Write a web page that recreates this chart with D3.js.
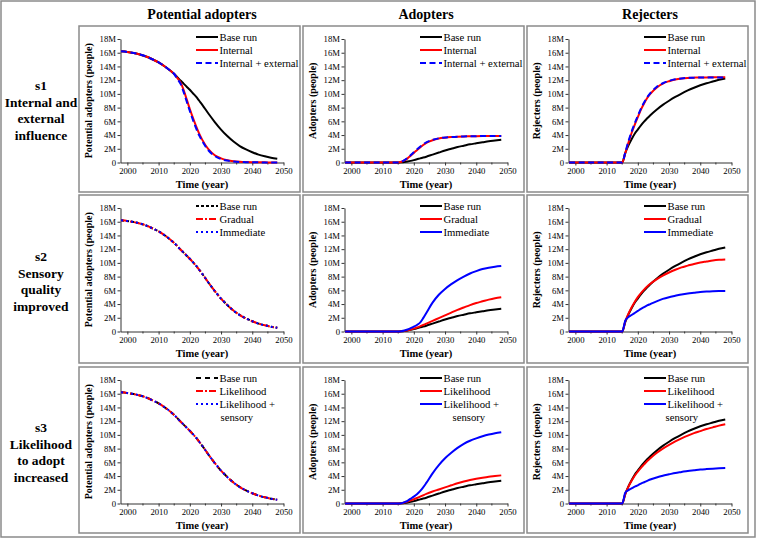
<!DOCTYPE html>
<html><head><meta charset="utf-8">
<script src="https://cdn.jsdelivr.net/npm/d3@7"></script>
<style>body{margin:0;background:#fff} text{font-family:"Liberation Serif","Times New Roman",Times,serif}</style>
</head><body><svg id="c" width="757" height="539"></svg>
<script>
// ---------- data (values in millions of people) ----------
const years = [1998,2000,2002,2004,2006,2008,2010,2012,2014,2015,2016,2017,2018,2019,2020,2021,2022,2023,2024,2026,2028,2030,2032,2034,2036,2038,2040,2042,2044,2046,2048];

const basePotential   = [16.2,16.1,15.95,15.75,15.45,15.05,14.6,14.0,13.3,12.9,12.45,11.95,11.5,11.05,10.6,10.1,9.6,9.0,8.4,7.1,5.9,4.8,3.85,3.05,2.4,1.9,1.5,1.15,0.9,0.7,0.55];
const internalPotential = [16.2,16.1,15.95,15.75,15.45,15.05,14.6,14.0,13.3,12.9,12.3,11.7,10.6,9.2,7.8,6.5,5.3,4.2,3.3,1.9,1.05,0.6,0.33,0.18,0.1,0.06,0.04,0.03,0.02,0.01,0.01];
const intExtPotential = [16.2,16.1,15.95,15.75,15.45,15.05,14.6,14.0,13.3,12.9,12.2,11.5,10.3,8.9,7.5,6.2,5.0,3.95,3.1,1.75,0.95,0.5,0.28,0.15,0.08,0.05,0.03,0.02,0.01,0.01,0.01];

const baseAdopters     = [0,0,0,0,0,0,0,0,0,0,0.03,0.08,0.15,0.24,0.35,0.47,0.6,0.72,0.85,1.15,1.45,1.75,2.0,2.25,2.45,2.65,2.8,2.95,3.1,3.2,3.3];
const internalAdopters = [0,0,0,0,0,0,0,0,0,0,0.1,0.3,0.6,1.0,1.4,1.8,2.2,2.55,2.85,3.25,3.5,3.62,3.7,3.76,3.8,3.82,3.84,3.85,3.85,3.85,3.85];
const intExtAdopters   = [0,0,0,0,0,0,0,0,0,0,0.12,0.35,0.68,1.08,1.5,1.9,2.3,2.65,2.92,3.3,3.52,3.65,3.72,3.77,3.8,3.82,3.84,3.85,3.85,3.85,3.85];
const gradualAdopters  = [0,0,0,0,0,0,0,0,0,0,0.03,0.09,0.17,0.28,0.42,0.58,0.75,0.95,1.15,1.55,1.95,2.35,2.75,3.15,3.5,3.85,4.15,4.4,4.65,4.85,5.0];
const immediateAdopters= [0,0,0,0,0,0,0,0,0,0,0.05,0.15,0.3,0.5,0.7,0.95,1.3,1.95,2.7,4.2,5.35,6.2,6.9,7.5,8.0,8.45,8.8,9.1,9.3,9.45,9.55];
const likelihoodAdopters = [0,0,0,0,0,0,0,0,0,0,0.05,0.15,0.28,0.45,0.62,0.8,1.0,1.2,1.4,1.75,2.05,2.35,2.65,2.95,3.2,3.42,3.6,3.76,3.9,4.0,4.1];
const likSensAdopters  = [0,0,0,0,0,0,0,0,0,0,0.05,0.2,0.4,0.7,1.0,1.35,1.8,2.35,3.0,4.4,5.6,6.6,7.4,8.1,8.7,9.15,9.5,9.8,10.05,10.25,10.4];

const baseRejecters     = [0,0,0,0,0,0,0,0,0,0,1.4,2.5,3.4,4.2,4.8,5.4,5.95,6.45,6.9,7.7,8.4,9.0,9.55,10.05,10.5,10.9,11.25,11.55,11.8,12.05,12.25];
const internalRejecters = [0,0,0,0,0,0,0,0,0,0,1.4,2.9,4.3,5.5,6.6,7.7,8.6,9.4,10.0,10.9,11.5,11.85,12.1,12.25,12.33,12.37,12.4,12.4,12.42,12.42,12.42];
const intExtRejecters   = [0,0,0,0,0,0,0,0,0,0,1.5,3.1,4.5,5.7,6.8,7.85,8.75,9.5,10.1,11.0,11.55,11.9,12.12,12.25,12.33,12.37,12.39,12.4,12.4,12.4,12.4];
const gradualRejecters  = [0,0,0,0,0,0,0,0,0,0,1.5,2.6,3.5,4.3,5.0,5.6,6.1,6.55,6.95,7.6,8.15,8.6,9.0,9.35,9.6,9.85,10.05,10.2,10.35,10.45,10.5];
const immediateRejecters= [0,0,0,0,0,0,0,0,0,0,1.6,2.1,2.4,2.7,3.0,3.3,3.55,3.8,4.0,4.4,4.75,5.0,5.2,5.4,5.55,5.65,5.75,5.82,5.87,5.9,5.92];
const likelihoodRejecters = [0,0,0,0,0,0,0,0,0,0,1.4,2.45,3.3,4.05,4.65,5.2,5.7,6.2,6.6,7.35,8.0,8.55,9.05,9.5,9.9,10.25,10.55,10.85,11.1,11.35,11.55];
const likSensRejecters  = [0,0,0,0,0,0,0,0,0,0,1.6,1.95,2.2,2.45,2.65,2.9,3.1,3.3,3.5,3.8,4.05,4.25,4.45,4.6,4.75,4.85,4.95,5.02,5.08,5.13,5.17];

const xTicks = [2000,2010,2020,2030,2040,2050];
const xMinorTicks = [2005,2015,2025,2035,2045];
const yTicks = [0,2,4,6,8,10,12,14,16,18];

const columnTitles = ["Potential adopters","Adopters","Rejecters"];
const yAxisTitles = ["Potential adopters (people)","Adopters (people)","Rejecters (people)"];
const xAxisTitle = "Time (year)";
const rowLabels = [["s1","Internal and","external","influence"],["s2","Sensory","quality","improved"],["s3","Likelihood","to adopt","increased"]];
const legendNames = [["Base run","Internal","Internal + external"],["Base run","Gradual","Immediate"],["Base run","Likelihood","Likelihood +|sensory"]];

// ---------- layout ----------
const colLeft = [79,303,527], colW = 221;
const rowTop = [26,195,367], rowH = [166,168,166];
const colors = ["#000000","#ff0000","#0000ff"];

const panels = [
  {r:0,c:0,s:[basePotential,internalPotential,intExtPotential],dash:[null,null,"6,3.5"]},
  {r:0,c:1,s:[baseAdopters,internalAdopters,intExtAdopters],dash:[null,null,"6,3.5"]},
  {r:0,c:2,s:[baseRejecters,internalRejecters,intExtRejecters],dash:[null,null,"6,3.5"]},
  {r:1,c:0,s:[basePotential,basePotential,basePotential],dash:["3,2","7,2,2,2","2,3"]},
  {r:1,c:1,s:[baseAdopters,gradualAdopters,immediateAdopters],dash:[null,null,null]},
  {r:1,c:2,s:[baseRejecters,gradualRejecters,immediateRejecters],dash:[null,null,null]},
  {r:2,c:0,s:[basePotential,basePotential,basePotential],dash:["5,4","7,2,2,2","2,3"]},
  {r:2,c:1,s:[baseAdopters,likelihoodAdopters,likSensAdopters],dash:[null,null,null]},
  {r:2,c:2,s:[baseRejecters,likelihoodRejecters,likSensRejecters],dash:[null,null,null]},
];

const svg = d3.select("#c");
svg.append("rect").attr("x",1).attr("y",1).attr("width",754).attr("height",536)
  .attr("fill","none").attr("stroke","#8a8a8a").attr("stroke-width",1.5);

columnTitles.forEach((t,i)=>{
  svg.append("text").attr("x",colLeft[i]+123).attr("y",18.5).attr("text-anchor","middle")
    .attr("font-weight","bold").attr("font-size",14).text(t);
});
rowLabels.forEach((lines,i)=>{
  const cy = [85,256,427][i];
  lines.forEach((l,j)=>{
    svg.append("text").attr("x",41).attr("y",cy+5+j*16.5).attr("text-anchor","middle")
      .attr("font-weight","bold").attr("font-size",13.5).text(l);
  });
});

panels.forEach(p=>{
  const L = colLeft[p.c], T = rowTop[p.r];
  const g = svg.append("g");
  g.append("rect").attr("x",L).attr("y",T).attr("width",colW).attr("height",rowH[p.r])
    .attr("fill","none").attr("stroke","#8a8a8a").attr("stroke-width",1.5);
  const x = d3.scaleLinear().domain([1997.8,2050]).range([L+41.5,L+204.5]);
  const y = d3.scaleLinear().domain([0,18]).range([T+136.5,T+13]);

  const xa = g.append("g").attr("transform",`translate(0,${T+136.5})`)
    .call(d3.axisBottom(x).tickValues(xTicks).tickFormat(d3.format("d")).tickSize(3).tickSizeOuter(0).tickPadding(2.5));
  xa.selectAll(".minor").data(xMinorTicks).enter().append("line").attr("class","minor")
    .attr("x1",d=>x(d)).attr("x2",d=>x(d)).attr("y1",0).attr("y2",2).attr("stroke","#333");
  const ya = g.append("g").attr("transform",`translate(${L+41.5},0)`)
    .call(d3.axisLeft(y).tickValues(yTicks).tickFormat(d=>d===0?"0":d+"M").tickSize(3).tickSizeOuter(0).tickPadding(1.5));
  [xa,ya].forEach(a=>{
    a.selectAll("text").attr("font-family",null).attr("font-size",8.7).attr("fill","#000");
    a.selectAll("path,line").attr("stroke","#333");
  });

  g.append("text").attr("x",L+123).attr("y",T+161.5).attr("text-anchor","middle")
    .attr("font-weight","bold").attr("font-size",10.5).text(xAxisTitle);
  g.append("text").attr("transform",`translate(${L+12.5},${(y(0)+y(18))/2}) rotate(-90)`)
    .attr("text-anchor","middle").attr("font-weight","bold")
    .attr("font-size",10).text(yAxisTitles[p.c]);

  const line = d3.line().x((d,i)=>x(years[i])).y(d=>y(d)).curve(d3.curveMonotoneX);
  p.s.forEach((vals,k)=>{
    g.append("path").datum(vals).attr("d",line).attr("fill","none")
      .attr("stroke",colors[k]).attr("stroke-width",2)
      .attr("stroke-dasharray",p.dash[k]);
  });

  legendNames[p.r].forEach((name,k)=>{
    const ly = T+11+k*13;
    g.append("line").attr("x1",L+117).attr("x2",L+139).attr("y1",ly).attr("y2",ly)
      .attr("stroke",colors[k]).attr("stroke-width",2).attr("stroke-dasharray",p.dash[k]);
    const parts = name.split("|");
    g.append("text").attr("x",L+140.5).attr("y",ly+3.8).attr("font-size",10.7).text(parts[0]);
    if(parts[1]){
      const off = [1,9,-2][p.c];
      g.append("text").attr("x",L+140.5+off).attr("y",ly+17.2).attr("font-size",10.7).text(parts[1]);
    }
  });
});
</script></body></html>
